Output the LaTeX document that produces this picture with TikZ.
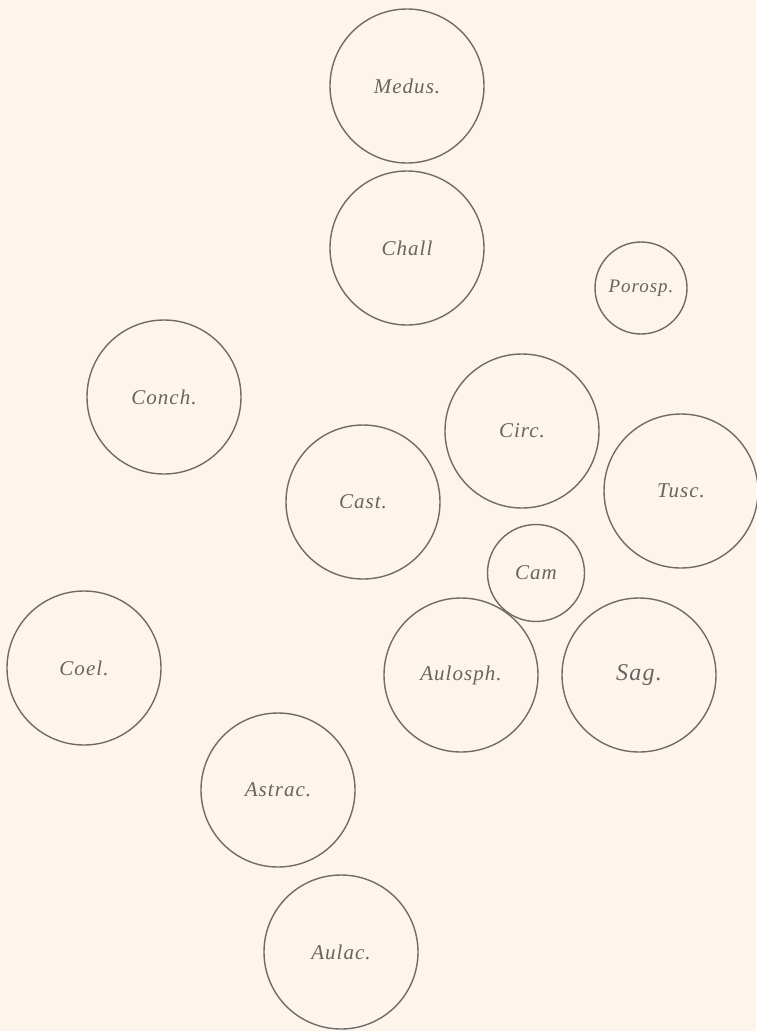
\documentclass[tikz,border=0pt]{standalone}
\usepackage{fontspec}
\setmainfont{Liberation Serif}
\newfontfamily\labelfont[LetterSpace=5]{Liberation Serif}
\definecolor{bg}{RGB}{253,245,235}
\definecolor{ink}{RGB}{112,106,104}
\definecolor{txt}{RGB}{105,100,98}
\begin{document}
\begin{tikzpicture}[x=1pt,y=-1pt,
  cell/.style={circle,draw=ink,line width=1.4pt,inner sep=0pt,minimum size=154pt,
    font=\labelfont\fontsize{21}{21}\selectfont\itshape,text=txt},
  smallcell/.style={cell,minimum size=92pt,font=\labelfont\fontsize{19}{19}\selectfont\itshape},
  camcell/.style={cell,minimum size=97pt,font=\labelfont\fontsize{21}{21}\selectfont\itshape}]
\fill[bg] (0,0) rectangle (756,1031);
\useasboundingbox (0,0) rectangle (756,1031);
\node[cell] (medus) at (407,86) {Medus.};
\node[cell] (chall) at (407,248) {Chall};
\node[smallcell] (porosp) at (641,288) {Porosp.};
\node[cell] (conch) at (164,397) {Conch.};
\node[cell] (circ) at (522,431) {Circ.};
\node[cell] (tusc) at (681,491) {Tusc.};
\node[cell] (cast) at (363,502) {Cast.};
\node[camcell] (cam) at (536,573) {Cam};
\node[cell] (coel) at (84,668) {Coel.};
\node[cell] (aulosph) at (461,675) {Aulosph.};
\node[cell,font=\labelfont\fontsize{24}{24}\selectfont\itshape] (sag) at (639,675) {Sag.};
\node[cell] (astrac) at (278,790) {Astrac.};
\node[cell] (aulac) at (341,952) {Aulac.};
\end{tikzpicture}
\end{document}
